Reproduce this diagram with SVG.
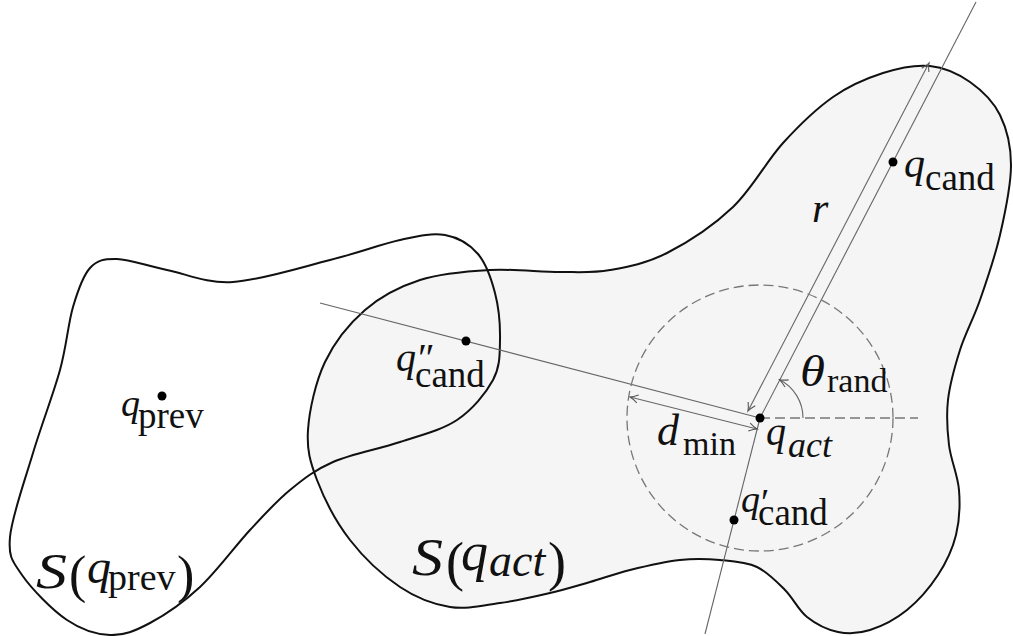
<svg xmlns="http://www.w3.org/2000/svg" width="1013" height="636" viewBox="0 0 1013 636">
<defs>
<style>
.shape{stroke:#111;stroke-width:2;fill:none;stroke-linejoin:round}
.thin{stroke:#666;stroke-width:1.1;fill:none}
.dash{stroke:#777;stroke-width:1.3;fill:none;stroke-dasharray:10 5}
.dot{fill:#000}
text{font-family:'Liberation Serif','Times New Roman',serif;fill:#111}
.it{font-style:italic}
.rm{font-style:normal}
</style>
<marker id="ah" viewBox="-10 -6 12 12" markerWidth="12" markerHeight="12" markerUnits="userSpaceOnUse" refX="0" refY="0" orient="auto-start-reverse">
<path d="M -8,-4 Q -3,-0.8 0,0 Q -3,0.8 -8,4" fill="none" stroke="#555" stroke-width="1.1"/>
</marker>
</defs>
<rect width="1013" height="636" fill="#fff"/>
<g id="S_act">
<path class="shape" style="fill:#f5f5f5" d="M308,430 C309.3,410.3 315.5,382 325,362 C334.5,342 349.2,323.7 365,310 C380.8,296.3 399.2,286.7 420,280 C440.8,273.3 466.7,271.3 490,270 C513.3,268.7 540,272 560,272 C580,272 592.2,273.2 610,270 C627.8,266.8 646.5,263.5 667,253 C687.5,242.5 713.7,225.3 733,207 C752.3,188.7 766.3,161.3 783,143 C799.7,124.7 816.3,108.7 833,97 C849.7,85.3 866.8,78.2 883,73 C899.2,67.8 915.5,64.5 930,66 C944.5,67.5 958.3,73.8 970,82 C981.7,90.2 993.2,101.2 1000,115 C1006.8,128.8 1011,145 1011,165 C1011,185 1005.2,212.5 1000,235 C994.8,257.5 986.7,280.8 980,300 C973.3,319.2 965.3,333.3 960,350 C954.7,366.7 949.8,384.2 948,400 C946.2,415.8 947.2,430 949,445 C950.8,460 957.8,475 959,490 C960.2,505 959.5,520.8 956,535 C952.5,549.2 946.2,562.5 938,575 C929.8,587.5 918.3,600.8 907,610 C895.7,619.2 881.5,626.3 870,630 C858.5,633.7 848.5,634.2 838,632 C827.5,629.8 815.8,624 807,617 C798.2,610 793.3,598.3 785,590 C776.7,581.7 767.8,572 757,567 C746.2,562 732.8,561.2 720,560 C707.2,558.8 695,558.3 680,560 C665,561.7 645,566.3 630,570 C615,573.7 603.3,578.2 590,582 C576.7,585.8 565,589.5 550,593 C535,596.5 516.7,600.7 500,603 C483.3,605.3 466.7,609.7 450,607 C433.3,604.3 416.7,598.2 400,587 C383.3,575.8 363.8,557.8 350,540 C336.2,522.2 324,498.3 317,480 C310,461.7 306.7,449.7 308,430 Z"/>
</g>
<g id="S_prev">
<path class="shape" d="M73,307 C78,290 82.7,276 90,268 C97.3,260 104.2,258.7 117,259 C129.8,259.3 147.7,266.2 167,270 C186.3,273.8 205.8,283.7 233,282 C260.2,280.3 302.2,267 330,260 C357.8,253 380.8,244.2 400,240 C419.2,235.8 432,232.7 445,235 C458,237.3 469.7,244.3 478,254 C486.3,263.7 491.3,278.7 495,293 C498.7,307.3 500.3,325.5 500,340 C499.7,354.5 500.2,366.7 493,380 C485.8,393.3 472.5,409.7 457,420 C441.5,430.3 420.7,435 400,442 C379.3,449 351.3,454 333,462 C314.7,470 303.8,478.7 290,490 C276.2,501.3 265,513.8 250,530 C235,546.2 216.7,571.5 200,587 C183.3,602.5 165,615 150,623 C135,631 123.8,635.5 110,635 C96.2,634.5 81.7,630 67,620 C52.3,610 31.5,588.8 22,575 C12.5,561.2 8.2,557.3 10,537 C11.8,516.7 24.7,480.8 33,453 C41.3,425.2 53.3,394.3 60,370 C66.7,345.7 68,324 73,307 Z"/>
</g>
<g id="connectors">
<line class="thin" x1="976" y1="2" x2="760" y2="418"/>
<line class="thin" x1="760" y1="418" x2="705" y2="634"/>
<line class="thin" x1="320" y1="303" x2="760" y2="418"/>
<line class="thin" x1="748" y1="411" x2="929" y2="63" marker-start="url(#ah)" marker-end="url(#ah)"/>
<line class="thin" x1="630" y1="397" x2="757" y2="429" marker-start="url(#ah)" marker-end="url(#ah)"/>
<path class="thin" d="M803,418 A43,43 0 0 0 779.7,379.8" marker-end="url(#ah)"/>
<line class="dash" x1="760" y1="418" x2="918" y2="418"/>
<circle class="dash" cx="760" cy="418" r="133"/>
</g>
<g id="q_act"><circle class="dot" cx="760" cy="418" r="4.5"/>
<text class="it" x="766" y="445" font-size="40">q<tspan x="788" y="457" font-size="36">act</tspan></text></g>
<g id="q_cand"><circle class="dot" cx="893" cy="162" r="4.5"/>
<text class="it" x="904" y="177" font-size="42">q<tspan class="rm" x="925" y="190" font-size="37">cand</tspan></text></g>
<g id="q_cand1"><circle class="dot" cx="734" cy="520" r="4.5"/>
<text class="it" x="741" y="512" font-size="38">q<tspan class="rm" x="761" y="515" font-size="38">′</tspan><tspan class="rm" x="758" y="525" font-size="37">cand</tspan></text></g>
<g id="q_cand2"><circle class="dot" cx="466" cy="341" r="4.5"/>
<text class="it" x="396" y="371" font-size="40">q<tspan class="rm" x="418" y="371" font-size="40">″</tspan><tspan class="rm" x="415" y="387" font-size="37">cand</tspan></text></g>
<g id="q_prev"><circle class="dot" cx="162" cy="396" r="4.5"/>
<text class="it" x="121" y="416" font-size="38">q<tspan class="rm" x="138" y="428" font-size="37">prev</tspan></text></g>
<g id="label_r"><text class="it" x="812" y="222" font-size="42">r</text></g>
<g id="label_theta"><text class="it" x="800" y="386" font-size="44" textLength="25" lengthAdjust="spacingAndGlyphs">θ</text><text class="rm" x="827" y="392" font-size="34">rand</text></g>
<g id="label_dmin"><text class="it" x="657" y="445" font-size="44">d<tspan class="rm" x="683" y="455" font-size="34">min</tspan></text></g>
<g id="label_Sprev"><text class="it" x="36" y="588" font-size="50" textLength="31" lengthAdjust="spacingAndGlyphs">S</text><text class="rm" x="69" y="592" font-size="52">(<tspan class="it" x="87" y="583" font-size="48">q</tspan><tspan x="108" y="590" font-size="38">prev</tspan><tspan x="177" y="592" font-size="52">)</tspan></text></g>
<g id="label_Sact"><text class="it" x="412" y="575" font-size="52" textLength="31" lengthAdjust="spacingAndGlyphs">S</text><text class="rm" x="446" y="580" font-size="54">(<tspan class="it" x="461" y="570" font-size="54">q</tspan><tspan class="it" x="489" y="576" font-size="46">act</tspan><tspan x="548" y="580" font-size="54">)</tspan></text></g>
</svg>
